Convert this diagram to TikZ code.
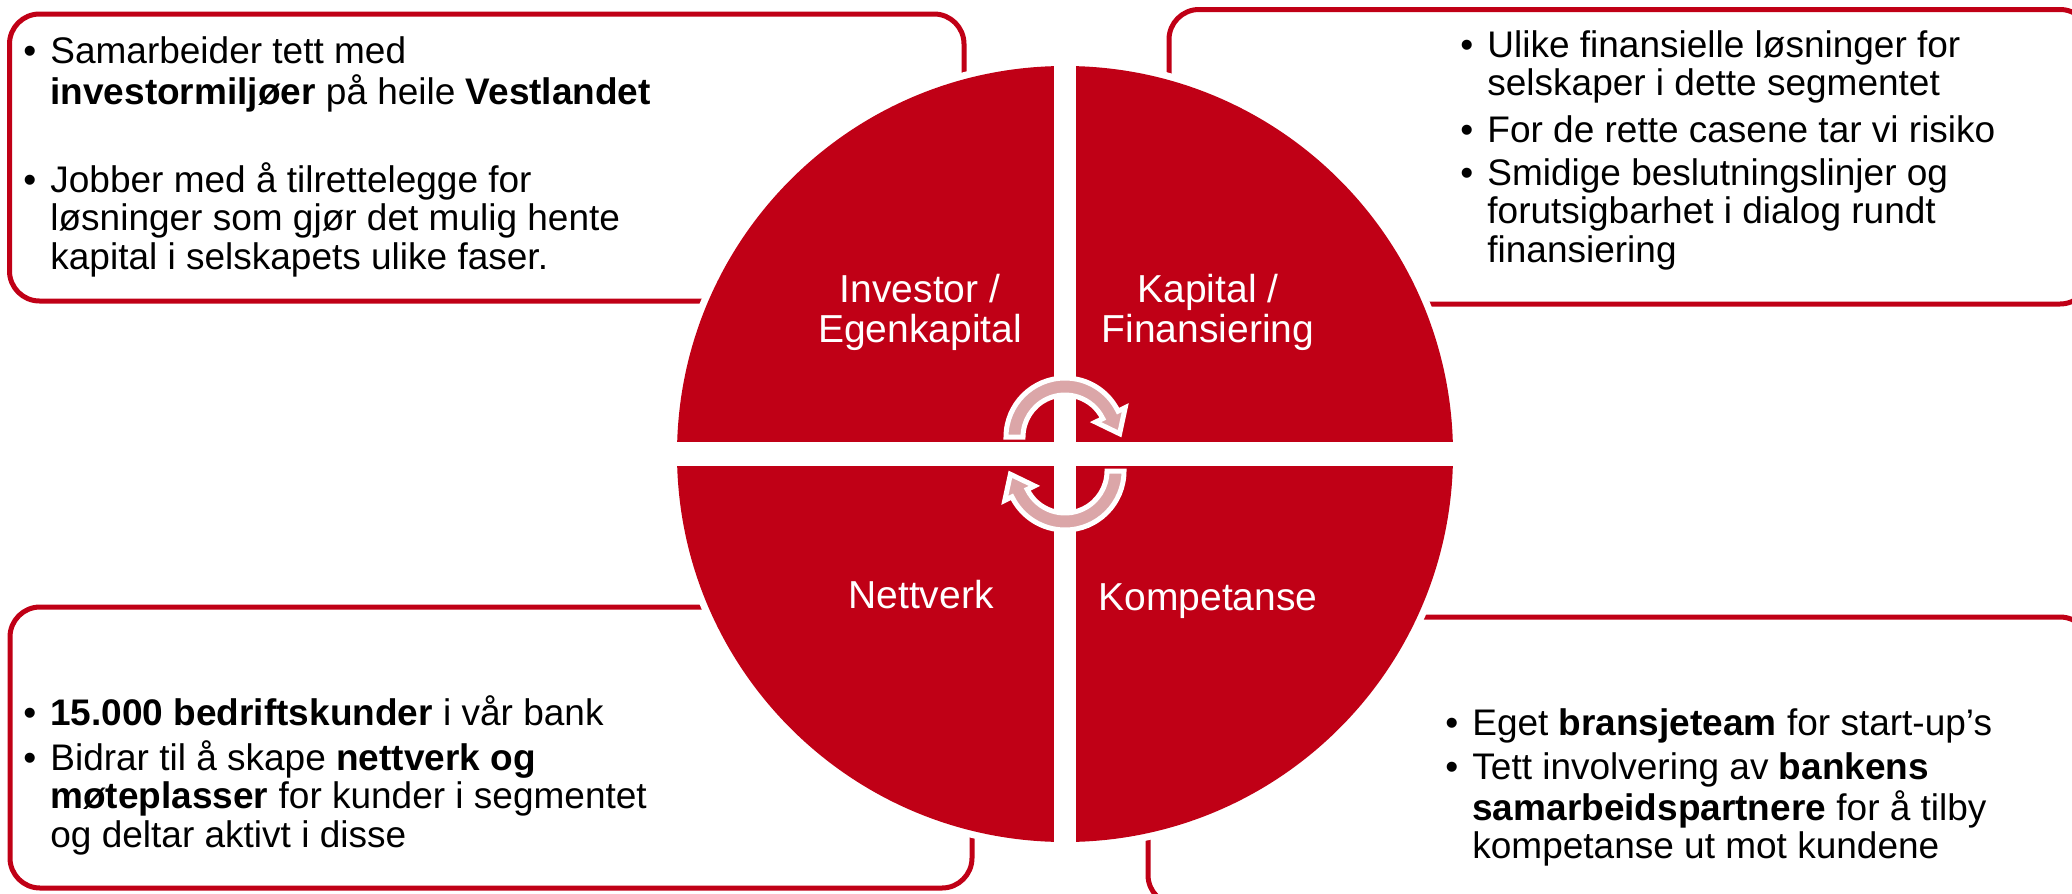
\documentclass[tikz,border=0pt]{standalone}
\usepackage{fontspec}
\setmainfont{Liberation Sans}
\usetikzlibrary{calc}
\definecolor{kred}{RGB}{192,0,22}
\definecolor{kpink}{RGB}{219,166,168}
\newcommand\kbul{\llap{•\hspace{7pt}}}
\newcommand\klines[1]{\begin{tabular}[t]{@{}l@{}}#1\end{tabular}}
\newcommand\kcenter[1]{\begin{tabular}[t]{@{}c@{}}#1\end{tabular}}
\tikzset{
  boxline/.style={draw=kred, line width=2.5pt, rounded corners=15pt},
  bodytext/.style={anchor=base west, inner sep=0pt, font=\fontsize{18.5pt}{19.25pt}\selectfont, text=black},
  quadlabel/.style={anchor=base, inner sep=0pt, font=\fontsize{19.5pt}{20pt}\selectfont, text=white},
  cyclearrow/.style={fill=kpink, draw=white, line width=2.5pt, line join=miter}
}
\begin{document}
\begin{tikzpicture}[x=0.5pt, y=-0.5pt]
\useasboundingbox (0,0) rectangle (2072,894);
\clip (0,0) rectangle (2072,894);

% boxes
\draw[boxline] (9.5,14) rectangle (964,301);
\draw[boxline] (1169,9.5) rectangle (2090,304);
\draw[boxline] (10,607) rectangle (972,888);
\draw[boxline] (1148,617) rectangle (2090,905);

% circle
\coordinate (c) at (1065,454);
\fill[white] (c) circle[radius=395];
\fill[kred] (c) circle[radius=388];
\fill[white] (1054,50) rectangle (1076,860);
\fill[white] (660,442) rectangle (1470,466);

% quadrant labels
\node[quadlabel] (q1) at (920,302) {\kcenter{Investor /\\Egenkapital}};
\node[quadlabel] (q2) at (1208,302) {\kcenter{Kapital /\\Finansiering}};
\node[quadlabel] (q3) at (921,608) {Nettverk};
\node[quadlabel] (q4) at (1208,610) {Kompetanse};

% cycle arrows
\coordinate (ct) at (1065,437);
\coordinate (cb) at (1065,471);
\filldraw[cyclearrow] ($(ct)+(180:42)$) -- ($(ct)+(180:59)$)
  arc[start angle=180, end angle=334, radius=59]
  -- ($(ct)+(334:67)$) -- ($(ct)+(334:50.5)+(64:21)$) -- ($(ct)+(334:34)$)
  -- ($(ct)+(334:42)$) arc[start angle=334, end angle=180, radius=42] -- cycle;
\filldraw[cyclearrow] ($(cb)+(0:42)$) -- ($(cb)+(0:59)$)
  arc[start angle=0, end angle=154, radius=59]
  -- ($(cb)+(154:67)$) -- ($(cb)+(154:50.5)+(244:21)$) -- ($(cb)+(154:34)$)
  -- ($(cb)+(154:42)$) arc[start angle=154, end angle=0, radius=42] -- cycle;

% texts
\node[bodytext] (b1a) at (50,63) {\kbul\klines{Samarbeider tett med\\\textbf{investormiljøer} på heile \textbf{Vestlandet}}};
\node[bodytext] (b1b) at (50,192) {\kbul\klines{Jobber med å tilrettelegge for\\løsninger som gjør det mulig hente\\kapital i selskapets ulike faser.}};

\node[bodytext] (b2a) at (1487,57) {\kbul\klines{Ulike finansielle løsninger for\\selskaper i dette segmentet}};
\node[bodytext] (b2b) at (1487,142) {\kbul\klines{For de rette casene tar vi risiko}};
\node[bodytext] (b2c) at (1487,185) {\kbul\klines{Smidige beslutningslinjer og\\forutsigbarhet i dialog rundt\\finansiering}};

\node[bodytext] (b3a) at (50,725) {\kbul\klines{\textbf{15.000 bedriftskunder} i vår bank}};
\node[bodytext] (b3b) at (50,770) {\kbul\klines{Bidrar til å skape \textbf{nettverk og}\\\textbf{møteplasser} for kunder i segmentet\\og deltar aktivt i disse}};

\node[bodytext] (b4a) at (1472,735) {\kbul\klines{Eget \textbf{bransjeteam} for start-up’s}};
\node[bodytext] (b4b) at (1472,779) {\kbul\klines{Tett involvering av \textbf{bankens}\\\textbf{samarbeidspartnere} for å tilby\\kompetanse ut mot kundene}};
\end{tikzpicture}
\end{document}
